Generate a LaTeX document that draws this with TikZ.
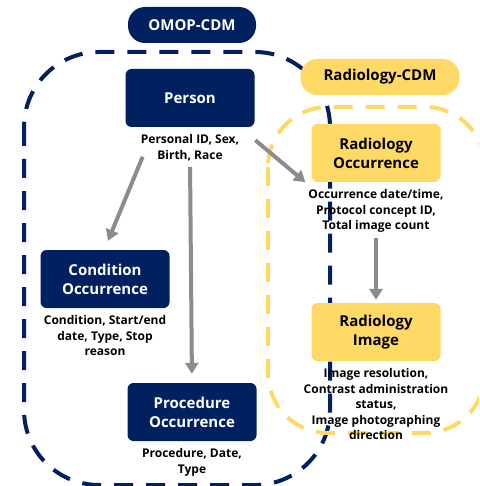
\documentclass[tikz,border=0pt]{standalone}
\usepackage{fontspec}
\setmainfont{Open Sans}
\usetikzlibrary{arrows.meta}
\definecolor{omopnavy}{HTML}{002060}
\definecolor{radyellow}{HTML}{FFD966}
\definecolor{linkgray}{HTML}{8C8C8C}
\begin{document}
\begin{tikzpicture}[x=1pt,y=-1pt,
  tablebox/.style={rounded corners=6pt,minimum width=129pt,minimum height=58pt,
    align=center,inner sep=2pt,font=\fontsize{15}{19}\selectfont\bfseries},
  omopbox/.style={tablebox,fill=omopnavy,text=white},
  radbox/.style={tablebox,fill=radyellow,text=black},
  pill/.style={rounded corners=17pt,minimum height=36pt,inner sep=0pt,
    font=\fontsize{15}{18}\selectfont\bfseries},
  fields/.style={align=center,inner sep=1pt,anchor=north,yshift=-6pt,
    font=\fontsize{12}{15.5}\selectfont\bfseries},
  region/.style={line width=4pt,dash pattern=on 19pt off 13pt,rounded corners=75pt},
  link/.style={linkgray,line width=4pt,-{Triangle[width=13pt,length=11pt]}}]
\clip (0,0) rectangle (479,486);
\draw[region,omopnavy] (24,52) rectangle (330,485);
\draw[region,radyellow,rounded corners=60pt] (268,107) rectangle (485,433);
\node[pill,fill=omopnavy,text=white,minimum width=128pt] (omop) at (192,25) {OMOP-CDM};
\node[pill,fill=radyellow,minimum width=159pt] (radcdm) at (380,77) {Radiology-CDM};
\node[omopbox] (person) at (190,98) {Person};
\node[fields] (personinfo) at (person.south) {Personal ID, Sex,\\Birth, Race};
\node[omopbox] (condition) at (105,279) {Condition\\Occurrence};
\node[fields] (conditioninfo) at (condition.south) {Condition, Start/end\\date, Type, Stop\\reason};
\node[omopbox] (procedure) at (192,412) {Procedure\\Occurrence};
\node[fields] (procedureinfo) at (procedure.south) {Procedure, Date,\\Type};
\node[radbox] (radocc) at (376,153) {Radiology\\Occurrence};
\node[fields] (radoccinfo) at (radocc.south) {Occurrence date/time,\\Protocol concept ID,\\Total image count};
\node[radbox] (radimage) at (376,332) {Radiology\\Image};
\node[fields] (radimageinfo) at (radimage.south) {Image resolution,\\Contrast administration\\status,\\Image photographing\\direction};
\draw[link] ([xshift=3pt,yshift=5pt]personinfo.south west) -- ([xshift=3pt,yshift=9pt]condition.north);
\draw[link,shorten <=5pt,shorten >=9pt] (personinfo.south) -- (procedure.north);
\draw[link] ([xshift=15pt,yshift=-7pt]personinfo.north east) -- ([xshift=-6pt]radocc.south west);
\draw[link,shorten <=4pt,shorten >=3pt] (radoccinfo.south) -- (radimage.north);
\end{tikzpicture}
\end{document}
